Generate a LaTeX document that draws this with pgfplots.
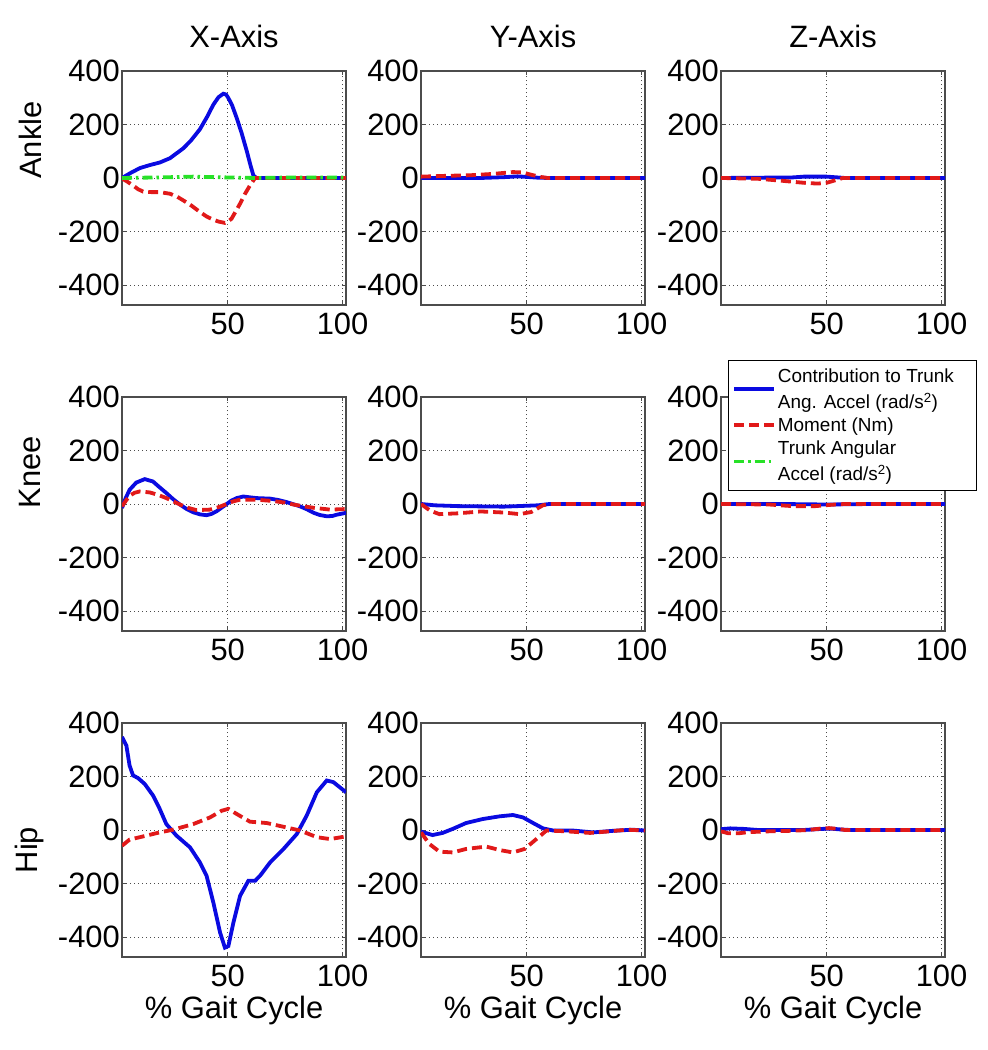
\documentclass[border=0pt]{standalone}
\usepackage{fontspec}
\setmainfont{Liberation Sans}
\usepackage{pgfplots}
\pgfplotsset{compat=1.18}
\definecolor{mblue}{RGB}{10,10,225}
\definecolor{mred}{RGB}{225,25,25}
\definecolor{mgreen}{RGB}{40,225,40}
\tikzset{
  bl/.style={mblue, line width=3.8bp, solid},
  rd/.style={mred, line width=3.8bp, dash pattern=on 10bp off 5bp},
  gr/.style={mgreen, line width=3.8bp, dash pattern=on 10bp off 4bp on 2.5bp off 4bp},
}
\pgfplotsset{gaitax/.style={
  scale only axis, width=224bp, height=234bp,
  xmin=4, xmax=101.5, ymin=-475, ymax=400,
  xtick={50,100}, xticklabels={50,100},
  ytick={-400,-200,0,200,400}, yticklabels={-400,-200,0,200,400},
  grid=major, grid style={black!70, line width=0.8bp, dash pattern=on 1bp off 3bp},
  tick align=inside, major tick length=4bp,
  axis line style={black!70, line width=1.2bp},
  tick style={black!70, line width=0.8bp},
  ticklabel style={font=\fontsize{31}{32}\selectfont},
  yticklabel style={inner sep=1bp, xshift=-1bp},
  xticklabel style={inner sep=1bp, yshift=-7bp},
  anchor=north west,
  clip=true,
  legend image code/.code={\draw[##1] (0bp,0bp) -- (40bp,0bp);},
}}
\begin{document}
\begin{tikzpicture}
% ---------------- Row 1: Ankle ----------------
\begin{axis}[gaitax, at={(122bp,-71bp)}]
\addplot[bl] coordinates {(4,0)(8,20)(11.8,37)(16,48)(20.5,58)(24.9,74)(30.7,111)(34,140)(37.9,182)(41,228)(43.75,274)(46,302)(48.1,315)(49.3,312)(50.3,299)(52,270)(53.9,225)(56,170)(58.3,101)(60,45)(61.2,9)(62.6,0)(101.5,0)};
\addplot[rd] coordinates {(4,-2)(6,-12)(8.8,-28)(11,-42)(13.2,-51)(17,-53)(20.5,-53)(24.9,-59)(28,-70)(30.7,-84)(34,-102)(37.9,-127)(41,-145)(43.75,-156)(46,-163)(48.8,-168)(50.3,-162)(51.7,-152)(53.5,-125)(55.4,-96)(57.5,-60)(59.7,-28)(61.9,0)(101.5,0)};
\addplot[gr] coordinates {(4,0)(20,2)(35,5)(50,2)(62,0)(80,2)(101.5,2)};
\end{axis}
\begin{axis}[gaitax, at={(421bp,-71bp)}]
\addplot[bl] coordinates {(4,0)(30,0)(40,3)(46,6)(50,4)(55,1)(60,0)(101.5,0)};
\addplot[rd] coordinates {(4,5)(15,8)(25,10)(35,15)(44,22)(48,21)(52,12)(56,4)(59,0)(101.5,0)};
\end{axis}
\begin{axis}[gaitax, at={(721bp,-71bp)}]
\addplot[bl] coordinates {(4,0)(35,2)(40,5)(50,5)(55,2)(58,0)(101.5,0)};
\addplot[rd] coordinates {(4,0)(20,-3)(30,-10)(40,-18)(46,-21)(50,-18)(54,-8)(57,0)(101.5,0)};
\end{axis}
% ---------------- Row 2: Knee ----------------
\begin{axis}[gaitax, at={(122bp,-397bp)}]
\addplot[bl] coordinates {(4,-15)(5.5,20)(7.3,53)(10.2,80)(13.9,93)(17.5,84)(20,65)(23.3,41)(26,20)(29.2,-2)(32,-18)(35,-31)(38,-39)(40.8,-42)(43,-37)(45.2,-27)(47.5,-13)(49.6,0)(51.5,12)(53.9,22)(56.8,28)(59.5,25)(62.6,22)(68.5,20)(72,15)(75.7,7)(81.5,-9)(84.5,-20)(87.4,-33)(90,-41)(93.1,-46)(95.5,-45)(97.5,-40)(101.5,-33)};
\addplot[rd] coordinates {(4,-9)(5.5,10)(7.3,31)(9.5,42)(11.8,47)(16.2,43)(20,33)(23.3,22)(29.2,-2)(33,-15)(36.4,-23)(42.3,-21)(46,-12)(49.6,0)(52.5,10)(55.4,16)(62.6,16)(69.9,11)(75,5)(78.6,-2)(84,-10)(88,-15)(94.6,-21)(101.5,-19)};
\end{axis}
\begin{axis}[gaitax, at={(421bp,-397bp)}]
\addplot[bl] coordinates {(4,0)(10,-5)(20,-8)(40,-10)(55,-5)(60,0)(101.5,0)};
\addplot[rd] coordinates {(4,0)(8,-25)(12,-38)(20,-35)(30,-28)(40,-32)(47,-38)(52,-30)(57,-5)(60,0)(101.5,0)};
\end{axis}
\begin{axis}[gaitax, at={(721bp,-397bp)},
  legend style={at={(0.03,1.157)}, anchor=north west, draw=black, line width=0.8bp, fill=white,
    font=\fontsize{19}{26}\selectfont, cells={align=left, anchor=west}, inner xsep=4bp, inner ysep=6bp, row sep=4bp},
  legend cell align=left]
\addlegendimage{bl}
\addlegendentry{Contribution to Trunk\hspace*{16bp}\\Ang. Accel (rad/s\textsuperscript{2})}
\addlegendimage{rd}
\addlegendentry{Moment (Nm)}
\addlegendimage{gr}
\addlegendentry{Trunk Angular\\Accel (rad/s\textsuperscript{2})}
\addplot[bl, forget plot] coordinates {(4,0)(30,0)(50,-2)(70,0)(101.5,0)};
\addplot[rd, forget plot] coordinates {(4,0)(25,-2)(35,-8)(45,-8)(52,-3)(58,0)(101.5,0)};
\end{axis}
% ---------------- Row 3: Hip ----------------
\begin{axis}[gaitax, at={(122bp,-723bp)}]
\addplot[bl] coordinates {(4,348)(5.9,316)(7.3,241)(8.8,204)(11,194)(13.9,172)(17.5,129)(20.4,79)(23.3,22)(27.7,-21)(33.6,-65)(37.9,-121)(40.8,-171)(43.75,-271)(46.7,-384)(48.8,-440)(50.3,-434)(52.5,-346)(55.4,-246)(59,-190)(61.9,-190)(64.1,-171)(68.5,-121)(74.3,-71)(80.1,-15)(84.4,54)(88.8,141)(93.1,185)(96,179)(101.5,141)};
\addplot[rd] coordinates {(4,-59)(7.3,-36)(13.2,-24)(20.4,-9)(26.2,1)(35,22)(42.3,47)(47.4,72)(50.3,79)(53.9,60)(59.7,31)(67,26)(74.3,12)(81.5,-2)(88.8,-27)(94.6,-34)(101.5,-24)};
\end{axis}
\begin{axis}[gaitax, at={(421bp,-723bp)}]
\addplot[bl] coordinates {(4,-6)(9,-19)(13.4,-11)(17.8,4)(23.6,26)(30.9,41)(38.2,51)(44,56)(48.4,47)(52.8,26)(57.1,6)(61.5,-2)(70,-2)(79,-9)(87.8,-3)(96,1)(101.5,-2)};
\addplot[rd] coordinates {(4,-9)(7.6,-52)(12,-81)(17.8,-84)(23.6,-71)(32.4,-62)(38.2,-75)(44,-84)(49.1,-71)(54.2,-34)(58.6,-2)(67.3,-5)(77.6,-11)(84.8,-6)(93.6,1)(101.5,-2)};
\end{axis}
\begin{axis}[gaitax, at={(721bp,-723bp)}]
\addplot[bl] coordinates {(4,3)(8,6)(14,4)(20,0)(40,0)(48,4)(52,5)(56,2)(60,0)(101.5,0)};
\addplot[rd] coordinates {(4,-5)(7,-12)(12,-12)(16,-8)(25,-5)(35,-3)(42,0)(47,5)(51,7)(55,4)(58,0)(101.5,0)};
\end{axis}
% ---------------- Titles and labels ----------------
\begin{scope}[every node/.style={font=\fontsize{31}{32}\selectfont, inner sep=0pt}]
\node at (234bp,-36bp) {X-Axis};
\node at (533bp,-36bp) {Y-Axis};
\node at (833bp,-36bp) {Z-Axis};
\node[rotate=90] at (30bp,-140bp) {Ankle};
\node[rotate=90] at (30bp,-472bp) {Knee};
\node[rotate=90] at (30bp,-850bp) {Hip};
\node at (234bp,-1011bp) {\% Gait Cycle};
\node at (533bp,-1011bp) {\% Gait Cycle};
\node at (833bp,-1011bp) {\% Gait Cycle};
\end{scope}
\pgfresetboundingbox
\path[use as bounding box] (0,0) rectangle (988bp,-1050bp);
\end{tikzpicture}
\end{document}
